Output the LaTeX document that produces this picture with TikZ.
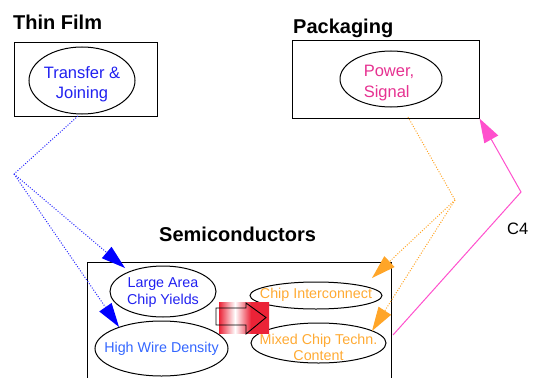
\documentclass[tikz,border=0pt]{standalone}
\usepackage{fontspec}
\setmainfont{Liberation Sans}
\usetikzlibrary{shapes.geometric,arrows.meta}
\definecolor{tblue}{RGB}{32,32,240}
\definecolor{hblue}{RGB}{51,102,255}
\definecolor{lblue}{RGB}{40,40,255}
\definecolor{torange}{RGB}{255,170,51}
\definecolor{lorange}{RGB}{255,165,40}
\definecolor{tpink}{RGB}{230,50,145}
\definecolor{lpink}{RGB}{255,80,205}
\definecolor{ared}{RGB}{235,35,55}
\pgfdeclarehorizontalshading{redwhite}{100bp}{color(0bp)=(ared); color(25bp)=(ared); color(41bp)=(white); color(57bp)=(ared); color(100bp)=(ared)}
\begin{document}
\begin{tikzpicture}[x=1pt,y=-1pt,
  title/.style={font=\fontsize{20}{24}\selectfont\bfseries, anchor=base west, inner sep=0},
  bigtxt/.style={font=\fontsize{16.5}{20.5}\selectfont, align=center, inner sep=0},
  smalltxt/.style={font=\fontsize{14.3}{16.8}\selectfont, align=center, inner sep=0},
  el/.style={draw, ellipse, line width=1pt, inner sep=0},
  boxnode/.style={draw, line width=1pt, inner sep=0},
  dotline/.style={line width=1pt, dash pattern=on 1pt off 1.6pt},
  bluetip/.style={-{Triangle[length=24pt,width=15pt,fill=blue,line width=0pt]}},
  orangetip/.style={-{Triangle[length=24pt,width=15pt,fill=lorange,line width=0pt]}},
  pinktip/.style={-{Triangle[length=24pt,width=16pt,fill=lpink,line width=0pt]}}
]
\useasboundingbox (0,0) rectangle (534,377);

% titles
\node[title] (ttf) at (13,30) {Thin Film};
\node[title] (tpk) at (293,34) {Packaging};
\node[title] (tsc) at (159,241) {Semiconductors};

% boxes
\node[boxnode, minimum width=143pt, minimum height=73pt] (tf) at (85.5,79.5) {};
\node[boxnode, minimum width=187pt, minimum height=77pt] (pk) at (385.5,79.5) {};
\draw[line width=1pt] (87,385) -- (87,262) -- (391,262) -- (391,385);

% ellipses
\node[el, minimum width=106pt, minimum height=67pt] (tj) at (82,80.5) {};
\node[bigtxt, text=tblue] (tjt) at ([yshift=-3.8pt]tj.center) {Transfer \&\\Joining};
\node[el, minimum width=102pt, minimum height=56pt] (ps) at (391,79) {};
\node[bigtxt, align=left, text=tpink] (pst) at ([xshift=-2pt,yshift=-3.8pt]ps.center) {Power,\\Signal};

\node[el, minimum width=106pt, minimum height=51pt] (la) at (163,291.5) {};
\node[smalltxt, text=tblue] (lat) at ([yshift=-1.2pt]la.center) {Large Area\\Chip Yields};
\node[el, minimum width=133pt, minimum height=55pt] (hw) at (161.5,348.5) {};
\node[smalltxt, text=hblue] (hwt) at (hw.center) {High Wire Density};
\node[el, minimum width=132pt, minimum height=27pt] (ci) at (316,295.5) {};
\node[smalltxt, text=torange] (cit) at ([yshift=1pt]ci.center) {Chip Interconnect};
\node[el, minimum width=135pt, minimum height=40pt] (mc) at (318.5,343) {};
\node[smalltxt, text=torange, font=\fontsize{14.3}{16}\selectfont] (mct) at ([yshift=-4.8pt]mc.center) {Mixed Chip Techn.\\Content};

% big shaded arrow
\shade[shading=redwhite] (219,302) rectangle (269,333);
\draw[line width=0.9pt, line join=miter] (216,308) -- (246,308) -- (246,303) -- (266,317.5) -- (246,334) -- (246,325) -- (216,325) -- cycle;

% coordinates
\coordinate (tjs) at (78,116);
\coordinate (b1) at (14,174);
\coordinate (laT) at (125,268);
\coordinate (hwT) at (119,327);
\coordinate (pss) at (408,117);
\coordinate (b2) at (455,200);
\coordinate (ciT) at (372,278);
\coordinate (mcT) at (372,331);
\coordinate (pk0) at (393,335);
\coordinate (b3) at (521,192);

% blue dotted
\draw[dotline, draw=lblue] (tjs) -- (b1);
\draw[dotline, draw=lblue, bluetip] (b1) -- (laT);
\draw[dotline, draw=lblue, bluetip] (b1) -- (hwT);

% orange dotted
\draw[dotline, draw=lorange] (pss) -- (b2);
\draw[dotline, draw=lorange, orangetip] (b2) -- (ciT);
\draw[dotline, draw=lorange, orangetip] (b2) -- (mcT);

% pink C4
\draw[line width=1pt, draw=lpink, pinktip] (pk0) -- (b3) -- (pk.south east);
\node[font=\fontsize{16.5}{20}\selectfont, anchor=base west, inner sep=0] (c4) at (507,234) {C4};
\end{tikzpicture}
\end{document}
